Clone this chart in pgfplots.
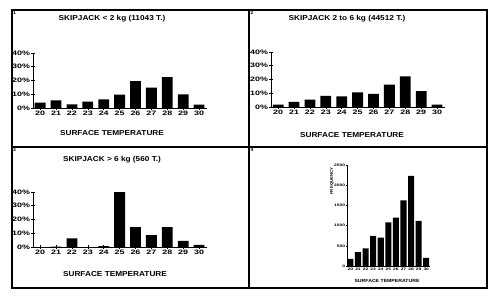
\documentclass[border=0pt]{standalone}
\usepackage{fontspec}
\setmainfont{Liberation Sans}
\newfontfamily\wf{Liberation Sans}[FakeStretch=1.15]
\newfontfamily\wwf{Liberation Sans}[FakeStretch=1.4]
\usepackage{pgfplots}
\pgfplotsset{compat=1.18}

\pgfplotsset{
  panel/.style={
    scale only axis,
    anchor=south west,
    width=174bp, height=55bp,
    xmin=19.55, xmax=30.5, ymin=0, ymax=40,
    axis lines*=left,
    axis line style={line width=0.8pt},
    ybar, bar width=0.68, bar shift=0pt,
    xtick={20,...,30},
    xticklabels={20,21,22,23,24,25,26,27,28,29,30},
    ytick={0,10,20,30,40},
    yticklabels={0\%,10\%,20\%,30\%,40\%},
    tick align=center,
    major tick length=3.5pt,
    tick style={black, line width=0.6pt},
    tick label style={font=\wwf\bfseries\fontsize{6.4}{6.4}\selectfont, inner sep=1pt},
    clip=false,
  },
}

\begin{document}
\begin{tikzpicture}
\useasboundingbox (0,0) rectangle (500bp,-299bp);

% frames
\draw[line width=1.1pt] (12bp,-10bp) rectangle (487bp,-288bp);
\draw[line width=1.1pt] (249bp,-10bp) -- (249bp,-288bp);
\draw[line width=1.1pt] (12bp,-147bp) -- (487bp,-147bp);

% panel 1
\begin{axis}[panel, at={(33bp,-108bp)}]
\addplot[fill=black, draw=none] coordinates {
  (20,3.9) (21,5.6) (22,2.7) (23,4.6) (24,6.3) (25,9.8)
  (26,19.5) (27,14.9) (28,22.4) (29,10.0) (30,2.4)
};
\end{axis}

% panel 2
\begin{axis}[panel, at={(271bp,-107bp)}]
\addplot[fill=black, draw=none] coordinates {
  (20,1.7) (21,3.7) (22,5.4) (23,8.1) (24,7.7) (25,10.6)
  (26,9.6) (27,16.3) (28,22.2) (29,11.6) (30,1.7)
};
\end{axis}

% panel 3
\begin{axis}[panel, at={(33bp,-247bp)}]
\addplot[fill=black, draw=none] coordinates {
  (20,0) (21,0.3) (22,6.2) (23,0) (24,0.7) (25,40.0)
  (26,14.5) (27,8.7) (28,14.5) (29,4.5) (30,1.5)
};
\end{axis}

% panel 4
\begin{axis}[panel, at={(347bp,-266bp)},
  width=83bp, height=101bp,
  ymax=2500, ytick={0,500,...,2500},
  yticklabels={0,500,1000,1500,2000,2500},
  bar width=0.8,
  major tick length=2pt,
  tick label style={font=\wwf\bfseries\fontsize{3.5}{3.5}\selectfont, inner sep=0.8pt},
]
\addplot[fill=black, draw=none] coordinates {
  (20,175) (21,345) (22,435) (23,745) (24,700) (25,1080)
  (26,1195) (27,1625) (28,2230) (29,1115) (30,200)
};
\end{axis}

% titles and labels
\begin{scope}[every node/.style={font=\wf\bfseries\fontsize{7.2}{7.2}\selectfont, inner sep=0pt}]
\node at (112bp,-19bp) {SKIPJACK < 2 kg (11043 T.)};
\node at (347bp,-19bp) {SKIPJACK 2 to 6 kg (44512 T.)};
\node at (112bp,-160bp) {SKIPJACK > 6 kg (560 T.)};
\node at (112bp,-133bp) {SURFACE TEMPERATURE};
\node at (352bp,-135bp) {SURFACE TEMPERATURE};
\node at (115bp,-274bp) {SURFACE TEMPERATURE};
\end{scope}
\node[font=\wf\bfseries\fontsize{4.5}{4.5}\selectfont, inner sep=0pt] at (387bp,-281bp) {SURFACE TEMPERATURE};
\node[font=\wf\bfseries\fontsize{3.8}{3.8}\selectfont, inner sep=0pt, rotate=90] at (332bp,-181bp) {FREQUENCY};

% panel numbers
\begin{scope}[every node/.style={font=\bfseries\fontsize{5}{5}\selectfont, inner sep=0pt, anchor=north west}]
\node at (13bp,-11bp) {1};
\node at (250.5bp,-11bp) {2};
\node at (13bp,-148bp) {3};
\node at (250.5bp,-148bp) {4};
\end{scope}
\end{tikzpicture}
\end{document}
